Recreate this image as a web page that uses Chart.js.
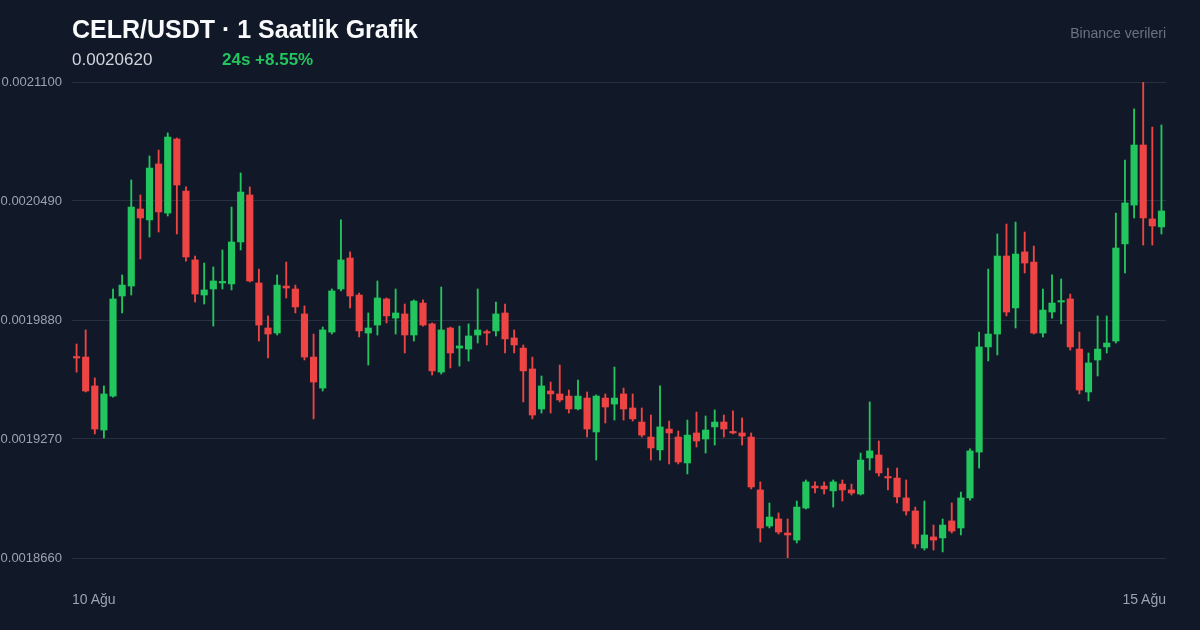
<!DOCTYPE html>
<html>
<head>
<meta charset="utf-8">
<script src="https://cdn.jsdelivr.net/npm/chart.js@4.4.0/dist/chart.umd.min.js"></script>
<style>
  html, body { margin: 0; padding: 0; background: #111827; }
  body { width: 1200px; height: 630px; position: relative; overflow: hidden; font-family: "Liberation Sans", Arial, sans-serif; }
  #wrap { position: absolute; left: 0; top: 0; width: 1200px; height: 630px; }
  .t { position: absolute; white-space: nowrap; }
  #title { left: 72px; top: 15px; font-size: 25px; font-weight: bold; color: #f9fafb; }
  #price { left: 72px; top: 50px; font-size: 17px; color: #d1d5db; }
  #chg { left: 222px; top: 50px; font-size: 17px; font-weight: bold; color: #22c55e; }
  #src { right: 34px; top: 25px; font-size: 14px; color: #6b7280; }
  #d0 { left: 72px; top: 591px; font-size: 14px; color: #9ca3af; }
  #d1 { right: 34px; top: 591px; font-size: 14px; color: #9ca3af; }
</style>
</head>
<body>
<div id="wrap"><canvas id="chart" width="1200" height="630"></canvas></div>
<div class="t" id="title">CELR/USDT · 1 Saatlik Grafik</div>
<div class="t" id="price">0.0020620</div>
<div class="t" id="chg">24s +8.55%</div>
<div class="t" id="src">Binance verileri</div>
<div class="t" id="d0">10 Ağu</div>
<div class="t" id="d1">15 Ağu</div>
<script>
// Hourly OHLC, in units of 1e-7 USDT
const opens = [19690,19690,19542,19316,19490,20003,20054,20449,20393,20680,20428,20808,20541,20188,20008,20039,20070,20065,20280,20521,
  20070,19839,19813,20054,20039,19911,19690,19531,19818,20039,20198,20008,19813,19854,19988,19890,19911,19803,19967,19860,
  19613,19839,19736,19731,19803,19818,19824,19916,19788,19736,19629,19424,19516,19501,19490,19424,19480,19306,19480,19449,
  19501,19429,19357,19280,19214,19321,19280,19147,19301,19270,19332,19357,19306,19301,19280,19009,18824,18860,18788,18752,
  18916,19029,19029,19004,19039,19009,18988,19173,19188,19075,19070,18968,18901,18711,18768,18763,18850,18814,18968,19203,
  19742,19808,20208,19942,20229,20177,19813,19921,19972,19988,19731,19511,19675,19742,19772,20270,20469,20777,20398,20357];
const highs = [19757,19829,19583,19542,20039,20111,20598,20521,20721,20751,20839,20813,20562,20208,20172,20152,20239,20459,20634,20562,
  20141,19901,20111,20177,20059,19952,19808,19844,20039,20393,20229,20018,19916,20080,19993,20039,19962,19983,19983,19865,
  20049,19844,19849,19860,20039,19829,19972,19962,19829,19752,19690,19593,19562,19649,19521,19572,19511,19496,19501,19639,
  19531,19501,19429,19393,19542,19362,19311,19367,19408,19388,19419,19393,19414,19378,19301,19050,18942,18891,18860,18952,
  19060,19050,19050,19060,19060,19039,19198,19460,19260,19121,19121,19060,18921,18952,18829,18860,18942,18998,19219,19818,
  20141,20321,20372,20382,20331,20259,20039,20111,20090,20013,19818,19711,19901,19901,20428,20700,20962,21100,20869,20880];
const lows = [19613,19511,19296,19275,19485,19916,20008,20193,20305,20331,20413,20321,20182,19972,19962,19849,20039,20034,20239,20075,
  19772,19685,19803,19993,19916,19675,19373,19516,19808,20029,19942,19793,19649,19803,19865,19808,19711,19772,19849,19598,
  19603,19634,19644,19670,19762,19752,19798,19711,19711,19460,19373,19403,19403,19460,19403,19419,19280,19162,19352,19367,
  19367,19362,19280,19162,19162,19142,19142,19091,19229,19198,19239,19280,19296,19239,19014,18742,18814,18783,18660,18737,
  18911,18993,18988,18921,18952,18983,18983,19111,19080,19009,18942,18880,18711,18701,18701,18691,18788,18778,18957,19121,
  19670,19701,19901,19839,20121,19808,19793,19890,19860,19726,19501,19465,19593,19711,19762,20121,20403,20264,20264,20321];
const closes = [19685,19516,19321,19501,19988,20059,20459,20403,20659,20434,20818,20572,20203,20013,20034,20080,20075,20280,20536,20080,
  19854,19808,20059,20044,19947,19690,19562,19829,20029,20188,20003,19824,19839,19993,19901,19916,19803,19977,19854,19619,
  19829,19711,19747,19798,19829,19813,19911,19783,19752,19619,19393,19542,19501,19470,19424,19490,19321,19490,19434,19480,
  19424,19373,19290,19224,19332,19301,19152,19290,19260,19316,19357,19321,19301,19285,19024,18814,18870,18793,18778,18921,
  19050,19019,19014,19050,19009,18993,19162,19209,19096,19070,18973,18901,18732,18778,18752,18829,18798,18968,19209,19742,
  19808,20208,19921,20218,20172,19813,19931,19967,19977,19742,19521,19660,19731,19762,20249,20480,20777,20403,20362,20439];
const yTicks = [18660, 19270, 19880, 20490, 21100];

const UP = "#22c55e";
const DOWN = "#ef4444";
const S = 1e-7;

const labels = closes.map((_, i) => "h" + i);
const colors = closes.map((c, i) => (c >= opens[i] ? UP : DOWN));
const bodies = closes.map((c, i) => [Math.min(opens[i], c) * S, Math.max(opens[i], c) * S]);
const wicks = closes.map((c, i) => [lows[i] * S, highs[i] * S]);

new Chart(document.getElementById("chart"), {
  type: "bar",
  data: {
    labels: labels,
    datasets: [
      { data: wicks, backgroundColor: colors, barThickness: 1.2, order: 2, grouped: false },
      { data: bodies, backgroundColor: colors, barThickness: 6.5, minBarLength: 1.5, order: 1, grouped: false },
    ],
  },
  options: {
    responsive: false,
    animation: false,
    layout: { padding: { top: 82, bottom: 72, right: 34, left: 0 } },
    plugins: { legend: { display: false }, tooltip: { enabled: false } },
    scales: {
      x: { display: false, offset: true },
      y: {
        min: yTicks[0] * S,
        max: yTicks[yTicks.length - 1] * S,
        afterFit: (s) => { s.width = 72; },
        afterBuildTicks: (s) => { s.ticks = yTicks.map((v) => ({ value: v * S })); },
        border: { display: false },
        grid: { color: "#263041", lineWidth: 1, drawTicks: false },
        ticks: {
          padding: 10,
          color: "#9ca3af",
          font: { family: "Liberation Sans", size: 13 },
          callback: (v) => v.toFixed(7),
        },
      },
    },
  },
});
</script>
</body>
</html>
